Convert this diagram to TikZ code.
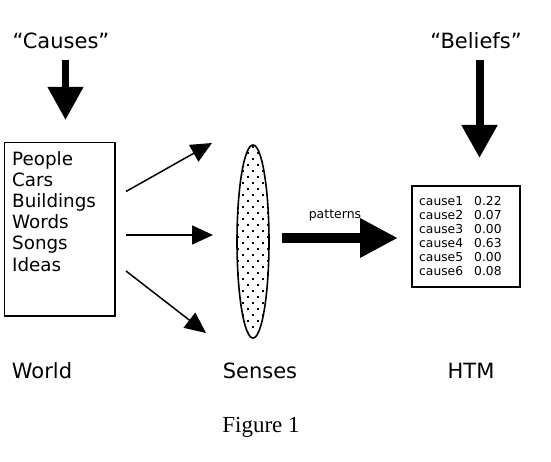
\documentclass[tikz,border=0pt]{standalone}
\usepackage{fontspec}
\setmainfont{DejaVu Sans}
\newfontfamily\figfont{Liberation Serif}
\usetikzlibrary{arrows.meta,shapes.geometric}
\tikzset{
  biglbl/.style={inner sep=0pt, font=\fontsize{21}{25}\selectfont},
  itemlbl/.style={inner sep=0pt, anchor=base west, font=\fontsize{18.3}{21}\selectfont},
  cellbl/.style={inner sep=0pt, anchor=base west, font=\fontsize{12.3}{14}\selectfont},
  smalllbl/.style={inner sep=0pt, font=\fontsize{12.5}{14}\selectfont},
  figlbl/.style={inner sep=0pt, font=\figfont\fontsize{23}{26}\selectfont},
  thinarrow/.style={line width=1.5pt, -{Triangle[length=21pt,width=19pt]}},
  fatarrow/.style={line width=#1, -{Triangle[length=33pt,width=34pt]}},
  patarrow/.style={line width=10pt, -{Triangle[length=38pt,width=37pt]}},
}
\begin{document}
\begin{tikzpicture}[x=1pt,y=-1pt]
\useasboundingbox (0,0) rectangle (551,462);
% titles
\node[biglbl, anchor=base] (causes) at (61,49) {“Causes”};
\node[biglbl, anchor=base] (beliefs) at (476,49) {“Beliefs”};
% world box
\node[draw, line width=1.5pt, inner sep=0pt, anchor=north west,
      minimum width=110.5pt, minimum height=173pt] (world) at (3.5,142) {};
\foreach \t [count=\i from 0] in {People,Cars,Buildings,Words,Songs,Ideas}
  \node[itemlbl] (w\i) at (12,{166+21*\i}) {\t};
% senses ellipse with dots
\begin{scope}
  \clip (253,241.5) ellipse [x radius=16, y radius=96.5];
  \foreach \r in {0,...,33}
    \foreach \c in {-2,...,2}
      \fill ({252+10*\c+5*mod(\r,2)},{146+6*\r}) rectangle +(2.2,2.2);
\end{scope}
\node[draw, ellipse, line width=1.6pt, inner sep=0pt,
      minimum width=32pt, minimum height=193pt] (senses) at (253,241.5) {};
% HTM box
\node[draw, line width=2pt, inner sep=0pt, anchor=north west,
      minimum width=108pt, minimum height=101pt] (htm) at (411,185) {};
\foreach \v [count=\i from 0] in {0.22,0.07,0.00,0.63,0.00,0.08} {
  \pgfmathtruncatemacro\n{\i+1}
  \node[cellbl] (c\i) at (419,{206+13.9*\i}) {cause\n};
  \node[cellbl] (v\i) at (474,{206+13.9*\i}) {\v};
}
% connector end points
\coordinate (ca0) at (65.5,60);
\coordinate (ca1) at (65.5,120);
\coordinate (be0) at (479.5,60);
\coordinate (be1) at (479.5,158);
\coordinate (s0) at (126,191.5);
\coordinate (t0) at (212,143);
\coordinate (s1) at (126,235);
\coordinate (t1) at (213,235);
\coordinate (s2) at (126,271);
\coordinate (t2) at (206,333);
\coordinate (p0) at (282,238);
\coordinate (p1) at (398,238);
% arrows
\draw[fatarrow=7pt] (ca0) -- (ca1);
\draw[fatarrow=8pt] (be0) -- (be1);
\draw[thinarrow] (s0) -- (t0);
\draw[thinarrow] (s1) -- (t1);
\draw[thinarrow] (s2) -- (t2);
\draw[patarrow] (p0) -- (p1);
\node[smalllbl, anchor=base] (pat) at (335,219) {patterns};
% bottom labels
\node[biglbl, anchor=base] (worldlbl) at (42,378) {World};
\node[biglbl, anchor=base] (senseslbl) at (260,378) {Senses};
\node[biglbl, anchor=base] (htmlbl) at (471,378) {HTM};
\node[figlbl, anchor=base] (fig) at (261,432) {Figure 1};
\end{tikzpicture}
\end{document}
